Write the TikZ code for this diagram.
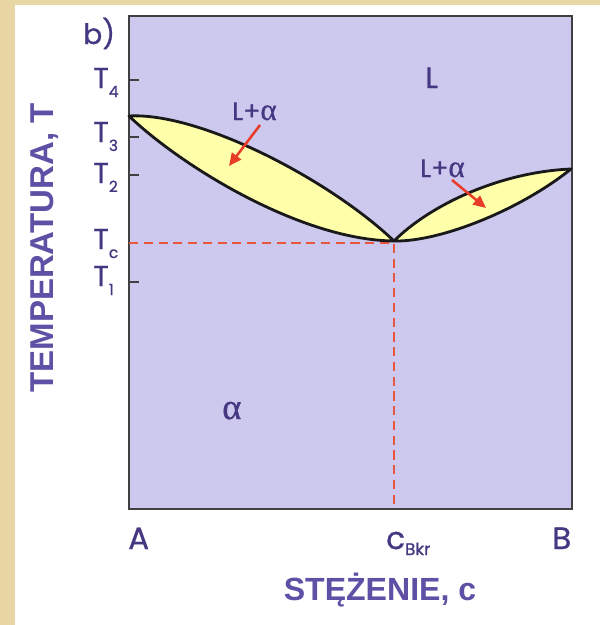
\documentclass[tikz,border=0pt]{standalone}
\usepackage{fontspec}
\setmainfont{Poppins}[FakeBold=0.8]
\newfontfamily\headfont{Liberation Sans}
\newfontfamily\greekfont{Liberation Serif}[FakeBold=0.8]
\usetikzlibrary{arrows.meta}
\definecolor{paper}{HTML}{E8D6A5}
\definecolor{phase}{HTML}{CDC9EE}
\definecolor{ink}{HTML}{463782}
\definecolor{headink}{HTML}{5F50A5}
\definecolor{lens}{HTML}{FFFFAA}
\definecolor{arrowred}{HTML}{E83C28}
\definecolor{dashred}{HTML}{E8563C}
% temperature label with a lowered index
\newcommand\Tlab[1]{T\raisebox{-6.4pt}{\fontsize{11}{11}\selectfont #1}}
\begin{document}
\begin{tikzpicture}[x=0.025cm, y=-0.025cm,
    lbl/.style={text=ink, inner sep=0pt, anchor=base west},
    axtitle/.style={text=headink, inner sep=0pt, font=\headfont\bfseries},
    boundary/.style={line width=2pt, line join=round, draw=black!90, fill=lens},
    pointer/.style={-{Triangle[length=9pt,width=8pt]}, line width=1.8pt, arrowred},
    guide/.style={dashred, line width=2pt, dash pattern=on 6.5pt off 4pt}]
  \useasboundingbox (0,0) rectangle (600,625);
  % paper and sheet
  \fill[paper] (0,0) rectangle (600,625);
  \fill[white] (15,5) rectangle (600,625);
  % phase field
  \draw[fill=phase, draw=black!75, line width=1.2pt] (129,16) rectangle (572,509);
  \foreach \y in {80,137,175,282} {
    \draw[black!75, line width=1.2pt] (129,\y) -- (139,\y);
  }
  % critical point guides
  \coordinate (tA) at (129,116);
  \coordinate (eu) at (394,241);
  \coordinate (tB) at (571,169);
  \coordinate (gl) at (129,243);
  \coordinate (gc) at (394,243);
  \coordinate (gb) at (394,509);
  \draw[guide] (gl) -- (gc) -- (gb);
  % two-phase lenses
  \draw[boundary] (tA) .. controls (200,112) and (330,180) .. (eu)
    .. controls (300,240) and (180,165) .. (tA) -- cycle;
  \draw[boundary] (eu) .. controls (440,242) and (520,210) .. (tB)
    .. controls (500,172) and (430,205) .. (eu) -- cycle;
  % axis labels
  \node[lbl, font=\fontsize{20}{20}\selectfont] (panel) at (83,44) {b)};
  \foreach \n/\t/\y in {T4/4/88, T3/3/142, T2/2/183, Tc/c/249, T1/1/286} {
    \node[lbl, font=\fontsize{20.5}{20.5}\selectfont] (lab\n) at (93,\y) {\Tlab{\t}};
  }
  \node[lbl, font=\fontsize{22}{22}\selectfont] (labA) at (128,549) {A};
  \node[lbl, font=\fontsize{22}{22}\selectfont] (labB) at (552,549) {B};
  \node[lbl, font=\fontsize{22}{22}\selectfont] (labc) at (386,549)
    {c\raisebox{-4.3pt}{\fontsize{12}{12}\selectfont Bkr}};
  % phase names
  \node[lbl, font=\fontsize{21}{21}\selectfont] (liq) at (425,88) {L};
  \node[lbl, font=\fontsize{26}{26}\greekfont] (sol) at (222,419) {α};
  \node[lbl, font=\fontsize{18}{18}\selectfont] (mixl) at (232,120) {L+{\greekfont\fontsize{22}{22}\selectfont α}};
  \node[lbl, font=\fontsize{18}{18}\selectfont] (mixr) at (420,177) {L+{\greekfont\fontsize{22}{22}\selectfont α}};
  \coordinate (pl) at (260,125);
  \coordinate (ql) at (229,166);
  \coordinate (pr) at (452,180);
  \coordinate (qr) at (486,208);
  \draw[pointer] (pl) -- (ql);
  \draw[pointer] (pr) -- (qr);
  % axis titles
  \node[axtitle, rotate=90, font=\fontsize{23.5}{23.5}\headfont\bfseries] (ttl) at (45,248)
    {TEMPERATURA, T};
  \node[axtitle, anchor=base, font=\fontsize{22.8}{22.8}\headfont\bfseries] (ctl) at (380,600)
    {STĘŻENIE, c};
\end{tikzpicture}
\end{document}
